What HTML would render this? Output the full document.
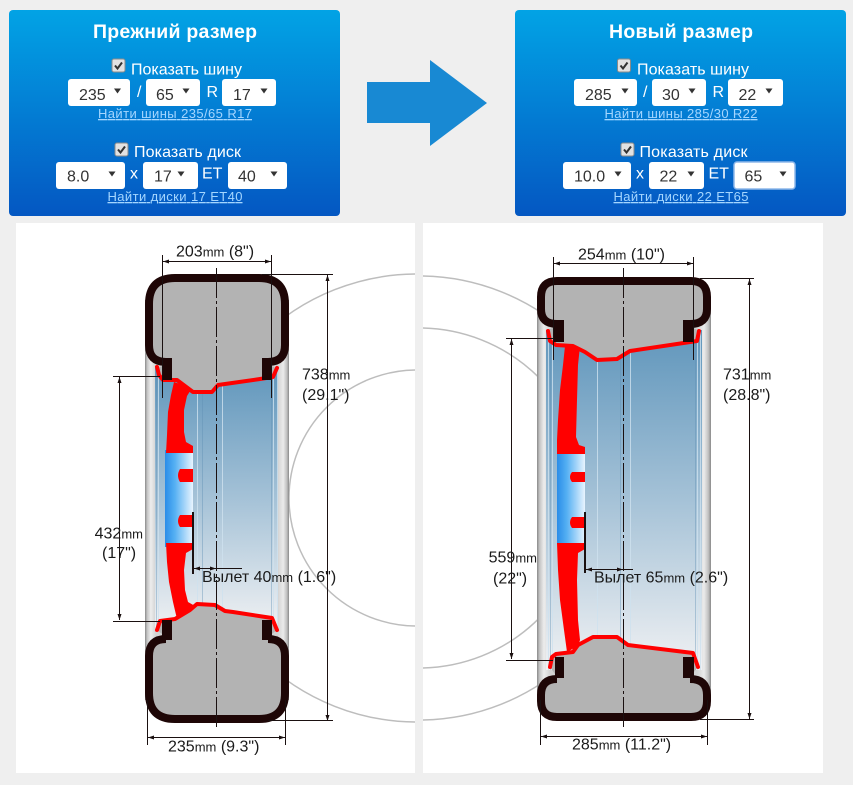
<!DOCTYPE html>
<html><head><meta charset="utf-8">
<style>
html,body{margin:0;padding:0;background:#efefef;}
body{width:853px;height:785px;overflow:hidden;}
svg{display:block;font-family:"Liberation Sans",Arial,sans-serif;}
</style></head><body>
<svg width="853" height="785" viewBox="0 0 853 785" xmlns="http://www.w3.org/2000/svg">
<defs>
 <linearGradient id="pg" x1="0" y1="0" x2="0" y2="1"><stop offset="0" stop-color="#02a3e5"/><stop offset="1" stop-color="#0457c2"/></linearGradient>
 <linearGradient id="cyl" x1="0" y1="0" x2="1" y2="0">
  <stop offset="0" stop-color="#8a8a8a"/><stop offset="0.015" stop-color="#c4c4c4"/><stop offset="0.04" stop-color="#ededed"/><stop offset="0.075" stop-color="#d2d2d2"/>
  <stop offset="0.92" stop-color="#d2d2d2"/><stop offset="0.96" stop-color="#ebebeb"/><stop offset="0.985" stop-color="#c0c0c0"/><stop offset="1" stop-color="#8a8a8a"/>
 </linearGradient>
 <linearGradient id="blu" x1="0" y1="0" x2="0" y2="1">
  <stop offset="0" stop-color="#6296bb"/><stop offset="0.08" stop-color="#6b9dc0"/><stop offset="0.5" stop-color="#a5c2d7"/><stop offset="1" stop-color="#f0f1f3"/>
 </linearGradient>
 <linearGradient id="hub" x1="0" y1="0" x2="1" y2="0">
  <stop offset="0" stop-color="#2a8de8"/><stop offset="0.35" stop-color="#55b0f3"/><stop offset="1" stop-color="#e8f4fe"/>
 </linearGradient>
 <clipPath id="cl"><rect x="16" y="223" width="399" height="550"/></clipPath>
 <clipPath id="cr"><rect x="423" y="223" width="400" height="550"/></clipPath>
</defs>

<!-- top panels -->
<rect x="9" y="10" width="331" height="206" rx="4" fill="url(#pg)"/>
<rect x="515" y="10" width="331" height="206" rx="4" fill="url(#pg)"/>
<polygon points="367,82 430,82 430,60 487,103 430,146 430,123 367,123" fill="#1889d3"/>

<g fill="#fff">
 <text x="175" y="38" font-size="19.5" font-weight="bold" text-anchor="middle" textLength="164">Прежний размер</text>
 <text x="681" y="38" font-size="19.5" font-weight="bold" text-anchor="middle" textLength="144">Новый размер</text>
</g>

<!-- checkboxes -->
<g stroke="#8a8a8a" fill="#e2e2e2">
 <rect x="112" y="59" width="13" height="13" rx="2"/>
 <rect x="115" y="143" width="13" height="13" rx="2"/>
 <rect x="617.5" y="59" width="13" height="13" rx="2"/>
 <rect x="621" y="143" width="13" height="13" rx="2"/>
</g>
<g stroke="#333" stroke-width="2" fill="none">
 <path d="M115 65.5 L117.5 68.5 L122 62.5"/>
 <path d="M118 149.5 L120.5 152.5 L125 146.5"/>
 <path d="M620.5 65.5 L623 68.5 L627.5 62.5"/>
 <path d="M624 149.5 L626.5 152.5 L631 146.5"/>
</g>

<g fill="#fff" font-size="16">
 <text x="131" y="74.5" textLength="111">Показать шину</text>
 <text x="134" y="157" textLength="107">Показать диск</text>
 <text x="637" y="74.5" textLength="112">Показать шину</text>
 <text x="639.5" y="157" textLength="108">Показать диск</text>
 <text x="137" y="97">/</text>
 <text x="206.5" y="97">R</text>
 <text x="130" y="178.5">x</text>
 <text x="202" y="178.5">ET</text>
 <text x="643" y="97">/</text>
 <text x="712.5" y="97">R</text>
 <text x="636" y="178.5">x</text>
 <text x="708.5" y="178.5">ET</text>
</g>

<!-- selects -->
<g fill="#fff">
 <rect x="68" y="79" width="62" height="27" rx="3"/>
 <rect x="146" y="79" width="54" height="27" rx="3"/>
 <rect x="222" y="79" width="54" height="27" rx="3"/>
 <rect x="56" y="162" width="69" height="27" rx="3"/>
 <rect x="143" y="162" width="55" height="27" rx="3"/>
 <rect x="228" y="162" width="59" height="27" rx="3"/>
 <rect x="574" y="79" width="63" height="27" rx="3"/>
 <rect x="652" y="79" width="54" height="27" rx="3"/>
 <rect x="728" y="79" width="55" height="27" rx="3"/>
 <rect x="563" y="162" width="68" height="27" rx="3"/>
 <rect x="649" y="162" width="55" height="27" rx="3"/>
 <rect x="734" y="162" width="61" height="27" rx="3" stroke="#8fb8ea" stroke-width="1.5"/>
</g>
<g fill="#333" font-size="16">
 <text x="79" y="100">235</text>
 <text x="156" y="100">65</text>
 <text x="233" y="100">17</text>
 <text x="67" y="181.7">8.0</text>
 <text x="154" y="181.7">17</text>
 <text x="238" y="181.7">40</text>
 <text x="585" y="100">285</text>
 <text x="662" y="100">30</text>
 <text x="738.5" y="100">22</text>
 <text x="574" y="181.7">10.0</text>
 <text x="659.5" y="181.7">22</text>
 <text x="744.5" y="181.7">65</text>
</g>
<g fill="#333">
 <polygon points="114,88.5 121,88.5 117.5,93.5"/>
 <polygon points="182.5,88.5 189.5,88.5 186,93.5"/>
 <polygon points="260.5,88.5 267.5,88.5 264,93.5"/>
 <polygon points="108.5,171.5 115.5,171.5 112,176.5"/>
 <polygon points="177.5,171.5 184.5,171.5 181,176.5"/>
 <polygon points="270.5,171.5 277.5,171.5 274,176.5"/>
 <polygon points="621.5,88.5 628.5,88.5 625,93.5"/>
 <polygon points="688.5,88.5 695.5,88.5 692,93.5"/>
 <polygon points="765.5,88.5 772.5,88.5 769,93.5"/>
 <polygon points="614.5,171.5 621.5,171.5 618,176.5"/>
 <polygon points="687.5,171.5 694.5,171.5 691,176.5"/>
 <polygon points="779.5,171.5 786.5,171.5 783,176.5"/>
</g>
<g fill="#a4d6ff" font-size="13" text-anchor="middle" text-decoration="underline">
 <text x="175" y="118" textLength="154">Найти шины 235/65 R17</text>
 <text x="175" y="201" textLength="135">Найти диски 17 ET40</text>
 <text x="681" y="118" textLength="153">Найти шины 285/30 R22</text>
 <text x="681" y="201" textLength="135">Найти диски 22 ET65</text>
</g>

<!-- white drawing panels -->
<rect x="16" y="223" width="399" height="550" fill="#fff"/>
<rect x="423" y="223" width="400" height="550" fill="#fff"/>

<g fill="none" stroke="#bdbdbd" stroke-width="1.5">
 <g clip-path="url(#cl)">
  <circle cx="417" cy="498" r="224"/>
  <circle cx="417" cy="498" r="128"/>
 </g>
 <g clip-path="url(#cr)">
  <circle cx="419" cy="498" r="222"/>
  <circle cx="419" cy="498" r="170"/>
 </g>
</g>

<!-- ===== LEFT TIRE ===== -->
<rect x="145" y="300" width="144" height="400" fill="url(#cyl)"/>
<rect x="155" y="368" width="123" height="262" fill="url(#blu)"/>
<g stroke="#cfe2ef" stroke-width="1" opacity="0.8">
 <line x1="158.5" y1="368" x2="158.5" y2="630"/>
 <line x1="197.5" y1="368" x2="197.5" y2="630"/>
 <line x1="222.5" y1="368" x2="222.5" y2="630"/>
 <line x1="273.5" y1="368" x2="273.5" y2="630"/>
 <line x1="277.5" y1="368" x2="277.5" y2="630"/>
</g>
<g stroke="#5f8fb3" stroke-width="0.8" opacity="0.5">
 <line x1="156.5" y1="368" x2="156.5" y2="630"/>
 <line x1="202.5" y1="368" x2="202.5" y2="630"/>
 <line x1="271.5" y1="368" x2="271.5" y2="630"/>
</g>
<rect x="165" y="450" width="28" height="97" fill="url(#hub)"/>
<g fill="#ff0000">
 <path d="M174,382 L192,388 L187,396 L184,410 L184,432 L186,442 L193,446 L193,453 L166,453 L167,435 L168,412 L171,395 Z"/>
 <path d="M180,469 L193,469 L193,482 L180,482 Q176,475.5 180,469 Z"/>
 <path d="M180,515 L193,515 L193,527 L180,527 Q176,521 180,515 Z"/>
 <path d="M166,543 L193,543 L193,549 L186,553 L184,570 L185,590 L188,602 L195,606 L190,614 L177,619 L173,602 L169,582 L167,562 Z"/>
</g>
<!-- top section -->
<path d="M149,300 Q149,278 175,278 L259,278 Q285,278 285,300 L285,346 Q285,364 268,364 L276,368 L273,377 L260,379 L218,385 L212,392 L193,392 L177,380 L163,380 L158,368 L166,364 Q149,364 149,346 Z" fill="#b3b3b3"/>
<path d="M157,367 L159,375 L163,380 L177,380 L193,392 L212,392 L218,385 L260,379 L273,377 L277,368" fill="none" stroke="#ff0000" stroke-width="4" stroke-linejoin="round" stroke-linecap="round"/>
<path d="M166,362 Q149,362 149,345 L149,304 Q149,278 175,278 L259,278 Q285,278 285,304 L285,345 Q285,362 268,362" fill="none" stroke="#1e0606" stroke-width="8"/>
<rect x="162" y="358" width="10" height="22" fill="#1e0606"/>
<rect x="262" y="358" width="10" height="22" fill="#1e0606"/>
<!-- bottom section -->
<path d="M149,700 Q149,719 175,719 L259,719 Q285,719 285,700 L285,655 Q285,637 268,637 L277,630 L272,618 L233,612 L225,611 L215,605 L197,604 L190,610 L175,619 L160,621 L157,630 L166,637 Q149,637 149,655 Z" fill="#b3b3b3"/>
<path d="M157,630 L160,621 L175,619 L190,610 L197,604 L215,605 L225,611 L233,612 L272,618 L277,630" fill="none" stroke="#ff0000" stroke-width="4" stroke-linejoin="round" stroke-linecap="round"/>
<path d="M166,639 Q149,639 149,656 L149,693 Q149,719 175,719 L259,719 Q285,719 285,693 L285,656 Q285,639 268,639" fill="none" stroke="#1e0606" stroke-width="8"/>
<rect x="162" y="620" width="10" height="20" fill="#1e0606"/>
<rect x="262" y="620" width="10" height="20" fill="#1e0606"/>

<!-- ===== RIGHT TIRE ===== -->
<rect x="537" y="300" width="174" height="400" fill="url(#cyl)"/>
<rect x="546" y="330" width="156" height="340" fill="url(#blu)"/>
<g stroke="#cfe2ef" stroke-width="1" opacity="0.8">
 <line x1="548.5" y1="330" x2="548.5" y2="670"/>
 <line x1="552.5" y1="330" x2="552.5" y2="670"/>
 <line x1="597.5" y1="330" x2="597.5" y2="670"/>
 <line x1="630.5" y1="330" x2="630.5" y2="670"/>
 <line x1="697.5" y1="330" x2="697.5" y2="670"/>
 <line x1="700.5" y1="330" x2="700.5" y2="670"/>
</g>
<g stroke="#5f8fb3" stroke-width="0.8" opacity="0.5">
 <line x1="550.5" y1="330" x2="550.5" y2="670"/>
 <line x1="620.5" y1="330" x2="620.5" y2="670"/>
 <line x1="695.5" y1="330" x2="695.5" y2="670"/>
</g>
<rect x="557" y="452" width="28" height="92" fill="url(#hub)"/>
<g fill="#ff0000">
 <path d="M565,346 L580,346 L578,365 L577,400 L576,437 L579,445 L585,447 L585,454 L557,454 L557,440 L558,420 L560,390 L563,365 Z"/>
 <path d="M572,472 L585,472 L585,482 L572,482 Q568,477 572,472 Z"/>
 <path d="M572,517 L585,517 L585,528 L572,528 Q568,522.5 572,517 Z"/>
 <path d="M557,543 L585,543 L585,549 L578,553 L577,580 L578,620 L580,640 L578,646 L567,652 L564,630 L560,600 L558,570 Z"/>
</g>
<path d="M541,297 Q541,281 557,281 L691,281 Q707,281 707,297 L707,311 Q707,326 690,326 L699,331 L697,341 L630,351 L617,359 L597,360 L585,352 L573,346 L556,345 L550,341 L548,330 L557,326 Q541,326 541,311 Z" fill="#b3b3b3"/>
<path d="M548,331 L550,341 L556,345 L573,346 L585,352 L597,360 L617,359 L630,351 L697,341 L699,331" fill="none" stroke="#ff0000" stroke-width="4" stroke-linejoin="round" stroke-linecap="round"/>
<path d="M557,324 Q541,324 541,309 L541,297 Q541,281 557,281 L691,281 Q707,281 707,297 L707,309 Q707,324 690,324" fill="none" stroke="#1e0606" stroke-width="8"/>
<rect x="553" y="320" width="11" height="22" fill="#1e0606"/>
<rect x="683" y="320" width="11" height="22" fill="#1e0606"/>
<path d="M541,701 Q541,717 557,717 L691,717 Q707,717 707,701 L707,693 Q707,677 690,677 L698,667 L693,653 L628,645 L617,637 L593,637 L578,645 L573,652 L556,654 L552,657 L550,667 L557,677 Q541,677 541,693 Z" fill="#b3b3b3"/>
<path d="M550,667 L552,657 L556,654 L573,652 L578,645 L593,637 L617,637 L628,645 L693,653 L698,667" fill="none" stroke="#ff0000" stroke-width="4" stroke-linejoin="round" stroke-linecap="round"/>
<path d="M557,679 Q541,679 541,695 L541,701 Q541,717 557,717 L691,717 Q707,717 707,701 L707,695 Q707,679 690,679" fill="none" stroke="#1e0606" stroke-width="8"/>
<rect x="555" y="657" width="9" height="21" fill="#1e0606"/>
<rect x="683" y="657" width="11" height="21" fill="#1e0606"/>

<!-- ===== DIMENSIONS ===== -->
<g stroke="#1a1010" stroke-width="1" fill="none">
 <line x1="216.5" y1="268" x2="216.5" y2="728" stroke-dasharray="30 3 3 3"/>
 <line x1="162.5" y1="255" x2="162.5" y2="398"/>
 <line x1="271.5" y1="255" x2="271.5" y2="398"/>
 <line x1="163" y1="261.5" x2="271" y2="261.5"/>
 <line x1="327.5" y1="275" x2="327.5" y2="721"/>
 <line x1="262" y1="274.5" x2="333" y2="274.5"/>
 <line x1="268" y1="720.5" x2="333" y2="720.5"/>
 <line x1="119.5" y1="377" x2="119.5" y2="620"/>
 <line x1="113" y1="376.5" x2="160" y2="376.5"/>
 <line x1="113" y1="621.5" x2="160" y2="621.5"/>
 <line x1="147.5" y1="700" x2="147.5" y2="745"/>
 <line x1="285.5" y1="700" x2="285.5" y2="745"/>
 <line x1="148" y1="737.5" x2="285" y2="737.5"/>
 <line x1="193" y1="512" x2="193" y2="574" stroke-width="2"/>
 <line x1="194" y1="568.5" x2="242" y2="568.5"/>
 <line x1="623.5" y1="268" x2="623.5" y2="727" stroke-dasharray="30 3 3 3"/>
 <line x1="553.5" y1="257" x2="553.5" y2="360"/>
 <line x1="693.5" y1="257" x2="693.5" y2="360"/>
 <line x1="554" y1="263.5" x2="693" y2="263.5"/>
 <line x1="749.5" y1="279" x2="749.5" y2="719"/>
 <line x1="700" y1="278.5" x2="754" y2="278.5"/>
 <line x1="700" y1="719.5" x2="754" y2="719.5"/>
 <line x1="511.5" y1="339" x2="511.5" y2="659"/>
 <line x1="506" y1="338.5" x2="553" y2="338.5"/>
 <line x1="506" y1="660.5" x2="553" y2="660.5"/>
 <line x1="540.5" y1="700" x2="540.5" y2="745"/>
 <line x1="707.5" y1="700" x2="707.5" y2="745"/>
 <line x1="541" y1="736.5" x2="707" y2="736.5"/>
 <line x1="585" y1="512" x2="585" y2="573" stroke-width="2"/>
 <line x1="586" y1="569.5" x2="633" y2="569.5"/>
</g>
<g fill="#1a1010">
 <polygon points="163,261.5 169,259.5 169,263.5"/>
 <polygon points="271,261.5 265,259.5 265,263.5"/>
 <polygon points="327.5,275 325.5,281 329.5,281"/>
 <polygon points="327.5,721 325.5,715 329.5,715"/>
 <polygon points="119.5,377 117.5,383 121.5,383"/>
 <polygon points="119.5,620 117.5,614 121.5,614"/>
 <polygon points="148,737.5 154,735.5 154,739.5"/>
 <polygon points="285,737.5 279,735.5 279,739.5"/>
 <polygon points="194,568.5 200,566.5 200,570.5"/>
 <polygon points="216,568.5 210,566.5 210,570.5"/>
 <polygon points="554,263.5 560,261.5 560,265.5"/>
 <polygon points="693,263.5 687,261.5 687,265.5"/>
 <polygon points="749.5,279 747.5,285 751.5,285"/>
 <polygon points="749.5,719 747.5,713 751.5,713"/>
 <polygon points="511.5,339 509.5,345 513.5,345"/>
 <polygon points="511.5,659 509.5,653 513.5,653"/>
 <polygon points="541,736.5 547,734.5 547,738.5"/>
 <polygon points="707,736.5 701,734.5 701,738.5"/>
 <polygon points="586,569.5 592,567.5 592,571.5"/>
 <polygon points="623,569.5 617,567.5 617,571.5"/>
</g>

<g fill="#1a1a1a" font-size="16">
 <text x="176" y="256.5">203<tspan font-size="13">mm</tspan> (8")</text>
 <text x="302" y="379.3">738<tspan font-size="13">mm</tspan></text>
 <text x="302" y="400">(29.1")</text>
 <text x="143" y="538.3" text-anchor="end">432<tspan font-size="13">mm</tspan></text>
 <text x="102" y="558">(17")</text>
 <text x="202" y="582">Вылет 40<tspan font-size="13">mm</tspan> (1.6")</text>
 <text x="168" y="751.5">235<tspan font-size="13">mm</tspan> (9.3")</text>

 <text x="578" y="259.3">254<tspan font-size="13">mm</tspan> (10")</text>
 <text x="723" y="379.3">731<tspan font-size="13">mm</tspan></text>
 <text x="723" y="400">(28.8")</text>
 <text x="537" y="562.7" text-anchor="end">559<tspan font-size="13">mm</tspan></text>
 <text x="493" y="583.3">(22")</text>
 <text x="594" y="582.7">Вылет 65<tspan font-size="13">mm</tspan> (2.6")</text>
 <text x="572" y="749.3">285<tspan font-size="13">mm</tspan> (11.2")</text>
</g>
</svg>
</body></html>
